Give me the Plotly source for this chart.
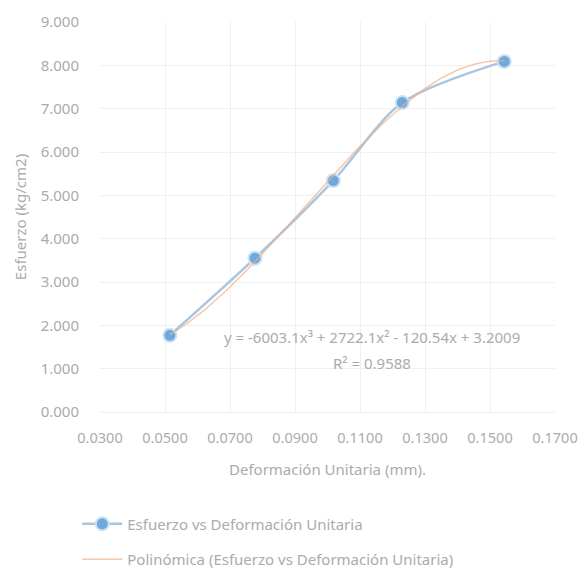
import numpy as np
import plotly.graph_objects as go

# Data
deformacion = [0.0515, 0.0777, 0.1018, 0.1230, 0.1544]
esfuerzo = [1.77, 3.55, 5.34, 7.14, 8.09]

serie_nombre = "Esfuerzo vs Deformación Unitaria"
tendencia_nombre = "Polinómica (Esfuerzo vs Deformación Unitaria)"
ecuacion = "y = -6003.1x³ + 2722.1x² - 120.54x + 3.2009"
r2_texto = "R² = 0.9588"

# cubic trendline fitted from the data (as a spreadsheet trendline does)
coef = np.polyfit(deformacion, esfuerzo, 3)
xt = np.linspace(min(deformacion), max(deformacion), 120)
yt = np.polyval(coef, xt)

TXT = "#ababab"
FONT = "Noto Sans"

fig = go.Figure()
fig.add_trace(go.Scatter(
    x=deformacion, y=esfuerzo, mode="lines+markers", name=serie_nombre,
    legendgroup="a",
    line=dict(color="#a9c6e0", width=2.5, shape="spline", smoothing=0.8),
    marker=dict(size=13, color="#6fa8dc", line=dict(color="#c9e2f7", width=2)),
))
fig.add_trace(go.Scatter(
    x=xt, y=yt, mode="lines", name=tendencia_nombre, legendgroup="b",
    line=dict(color="rgba(244,177,131,0.7)", width=1.5),
))

fig.add_annotation(x=0.1138, y=1.73, text=ecuacion, showarrow=False,
                   font=dict(size=15, color=TXT, family=FONT))
fig.add_annotation(x=0.1138, y=1.13, text=r2_texto, showarrow=False,
                   font=dict(size=15, color=TXT, family=FONT))

fig.update_layout(
    width=578, height=580,
    paper_bgcolor="white", plot_bgcolor="white",
    margin=dict(l=92, r=31, t=14, b=160),
    font=dict(family=FONT, color=TXT, size=14),
    showlegend=True,
    legend=dict(orientation="v", x=-0.05, xanchor="left", y=-0.245, yanchor="top",
                font=dict(size=15, color=TXT, family=FONT), tracegroupgap=13,
                itemwidth=40),
    xaxis=dict(range=[0.03, 0.17], tick0=0.03, dtick=0.02, tickformat=".4f",
               automargin=False,
               showgrid=True, gridcolor="#f0f0f0", zeroline=False,
               showline=True, linecolor="#f0f0f0",
               ticks="outside", ticklen=13, tickcolor="rgba(0,0,0,0)",
               tickfont=dict(size=14.5, color=TXT),
               title=dict(text="Deformación Unitaria (mm).", font=dict(size=15, color=TXT),
                          standoff=18)),
    yaxis=dict(range=[0, 9], dtick=1, tickformat=".3f",
               automargin=False,
               showgrid=True, gridcolor="#f0f0f0", zeroline=False,
               showline=False,
               ticks="outside", ticklen=17, tickcolor="rgba(0,0,0,0)",
               tickfont=dict(size=15, color=TXT),
               title=dict(text="Esfuerzo (kg/cm2)", font=dict(size=15, color=TXT),
                          standoff=10)),
)

fig.write_html("out.html")
